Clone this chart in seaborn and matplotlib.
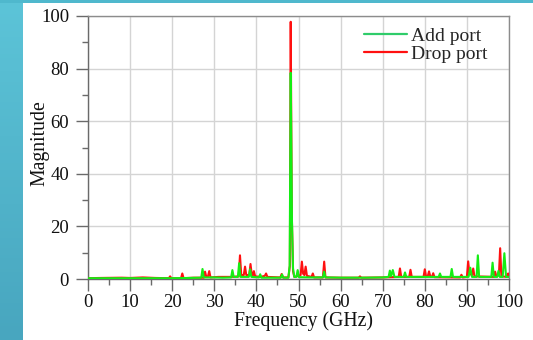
import numpy as np
import pandas as pd
import matplotlib
matplotlib.use("Agg")
import matplotlib.pyplot as plt
from matplotlib.patches import Rectangle
from matplotlib.lines import Line2D
from matplotlib.colors import LinearSegmentedColormap
import seaborn as sns

# ---------------- data ----------------
series_names = ["Add port", "Drop port"]

add_freq = [0, 10, 20, 24, 26.9, 27.2, 27.5, 30, 32, 34.0, 34.3, 34.6, 35.6, 35.9, 36.2,
            38.2, 38.5, 38.8, 40.6, 40.9, 41.2, 44, 45.8, 46.1, 46.4, 47.6, 47.9, 48.15,
            48.45, 48.7, 49.0, 49.5, 49.8, 50.1, 53, 55.8, 56.1, 56.4, 60, 66, 70, 71.4,
            71.7, 72.0, 72.4, 72.8, 75.0, 75.3, 75.6, 78, 83.3, 83.6, 83.9, 86.1, 86.4,
            86.7, 89, 90.4, 90.8, 91.2, 92.3, 92.6, 92.9, 95, 95.8, 96.1, 96.4, 97.2,
            97.5, 97.8, 98.5, 98.9, 99.3, 100]
add_mag = [0.3, 0.3, 0.3, 0.4, 0.5, 3.8, 0.6, 0.6, 0.5, 0.6, 3.4, 0.8, 0.8, 6.0, 0.8,
           0.8, 3.7, 0.8, 0.6, 1.8, 0.5, 0.5, 0.5, 1.7, 0.5, 0.5, 5.0, 78.4,
           22.0, 4.0, 0.8, 0.8, 3.4, 0.7, 0.6, 0.6, 2.8, 0.6, 0.5, 0.5, 0.6, 0.8,
           3.2, 1.0, 3.4, 0.8, 0.8, 2.5, 0.8, 0.8, 0.8, 2.1, 0.8, 0.8, 3.8,
           0.8, 0.8, 0.8, 4.3, 0.8, 0.8, 9.0, 0.8, 0.8, 0.8, 6.2, 0.8, 0.8,
           3.1, 0.8, 0.8, 9.8, 0.8, 0.8]

drop_freq = [0, 3, 8, 10, 13, 16, 19.2, 19.5, 19.8, 22.1, 22.4, 22.7, 25, 27.5, 27.8, 28.1,
             28.5, 28.8, 29.1, 31, 34, 35.8, 36.1, 36.4, 37.0, 37.3, 37.6, 38.3, 38.6,
             38.9, 39.1, 39.4, 39.7, 41.0, 42.0, 42.3, 42.6, 44, 45.7, 46.0, 46.3, 47.6,
             47.95, 48.15, 48.4, 48.7, 49.0, 50.0, 50.5, 50.8, 51.1, 51.4, 51.7, 52.0,
             53.1, 53.4, 53.7, 55.8, 56.1, 56.4, 60, 64.3, 64.6, 64.9, 70, 73.8, 74.1,
             74.4, 76.3, 76.6, 76.9, 79.7, 80.0, 80.3, 80.7, 81.0, 81.3, 81.7, 82.0, 82.3,
             88.4, 88.7, 89.0, 90.0, 90.3, 90.6, 91.2, 91.5, 91.8, 96.4, 96.7, 97.0,
             97.6, 97.9, 98.2, 99.5, 99.8, 100]
drop_mag = [0.3, 0.4, 0.5, 0.4, 0.6, 0.4, 0.3, 1.0, 0.3, 0.3, 2.1, 0.3, 0.5, 0.5, 2.8, 0.8,
            1.0, 3.0, 0.6, 0.8, 0.8, 1.0, 9.0, 1.5, 1.5, 4.7, 1.5, 1.5, 5.7,
            1.5, 1.2, 3.0, 1.0, 0.8, 1.2, 2.1, 0.8, 0.7, 0.6, 1.9, 0.6, 0.6,
            5.0, 97.8, 25.0, 3.0, 0.8, 1.2, 1.5, 6.6, 2.0, 1.5, 4.7, 1.2,
            0.8, 2.1, 0.6, 0.6, 6.6, 0.6, 0.5, 0.5, 1.0, 0.5, 0.6, 0.8, 4.0,
            0.8, 0.8, 3.5, 0.8, 0.8, 3.7, 1.0, 1.0, 2.9, 1.0, 0.8, 2.2, 0.7,
            0.6, 1.6, 0.6, 0.8, 6.7, 2.0, 1.5, 4.0, 1.0, 0.8, 2.8, 1.0,
            1.5, 11.7, 1.0, 0.8, 2.1, 0.8]

x_ticks = [0, 10, 20, 30, 40, 50, 60, 70, 80, 90, 100]
y_ticks = [0, 20, 40, 60, 80, 100]

# ---------------- style ----------------
sns.set_theme(style="white")
plt.rcParams['font.family'] = ['Liberation Serif', 'DejaVu Serif']

fig = plt.figure(figsize=(5.33, 3.40), dpi=100)
fig.patch.set_facecolor("white")

# decorative background: left gradient band and thin top band
band = fig.add_axes([0, 0, 23 / 533, 1], zorder=0)
cmap = LinearSegmentedColormap.from_list("band", ["#5cc4d8", "#48a6bf"])
band.imshow(np.linspace(0, 1, 100).reshape(-1, 1), aspect="auto", cmap=cmap,
            extent=[0, 1, 1, 0])
band.set_axis_off()
fig.patches.append(Rectangle((0, 1 - 2.5 / 340), 1, 2.5 / 340, transform=fig.transFigure,
                             facecolor="#4fb8cd", edgecolor="none", zorder=0))

ax = fig.add_axes([88 / 533, 1 - 279 / 340, (509 - 88) / 533, (279 - 16) / 340])

df_add = pd.DataFrame({"Frequency": add_freq, "Magnitude": add_mag})
df_drop = pd.DataFrame({"Frequency": drop_freq, "Magnitude": drop_mag})

green_line = "#14ee14"
green_leg = "#2fcc6a"
red = "#ff1010"

sns.lineplot(data=df_drop, x="Frequency", y="Magnitude", ax=ax, color=red, lw=1.5,
             sort=False, estimator=None, zorder=3)
sns.lineplot(data=df_add, x="Frequency", y="Magnitude", ax=ax, color=green_line, lw=1.5,
             sort=False, estimator=None, zorder=4)

ax.set_xlim(0, 100)
ax.set_ylim(0, 100)
ax.set_xticks(x_ticks)
ax.set_yticks(y_ticks)
ax.set_xticks([5, 15, 25, 35, 45, 55, 65, 75, 85, 95], minor=True)
ax.set_yticks([10, 30, 50, 70, 90], minor=True)
ax.grid(True, which="major", color="#d4d4d4", lw=1.0)
ax.set_axisbelow(True)

for s in ["top", "right"]:
    ax.spines[s].set_color("#8c8c8c")
    ax.spines[s].set_linewidth(1.0)
for s in ["left", "bottom"]:
    ax.spines[s].set_color("#6a6a6a")
    ax.spines[s].set_linewidth(1.0)

ax.tick_params(axis="both", which="major", direction="out", length=8.6, width=1,
               color="#6a6a6a", labelsize=13.5, labelcolor="#111111")
ax.tick_params(axis="x", which="major", pad=2.5)
ax.tick_params(axis="y", which="major", pad=5)
ax.tick_params(axis="both", which="minor", direction="out", length=4.3, width=1,
               color="#6a6a6a")
ax.tick_params(left=True, bottom=True, which="both")

ax.set_xlabel("Frequency (GHz)", fontsize=14.2, color="#111111", labelpad=0, x=0.513)
ax.set_ylabel("Magnitude", fontsize=14.2, color="#111111", labelpad=-6, y=0.515)

handles = [Line2D([0], [0], color=green_leg, lw=1.6),
           Line2D([0], [0], color=red, lw=1.6)]
ax.legend(handles, series_names, loc="upper right", frameon=False, fontsize=14,
          handlelength=2.2, handletextpad=0.2, labelspacing=0.0,
          bbox_to_anchor=(0.948, 0.956), borderaxespad=0, borderpad=0)

fig.savefig("out.png", dpi=100)
